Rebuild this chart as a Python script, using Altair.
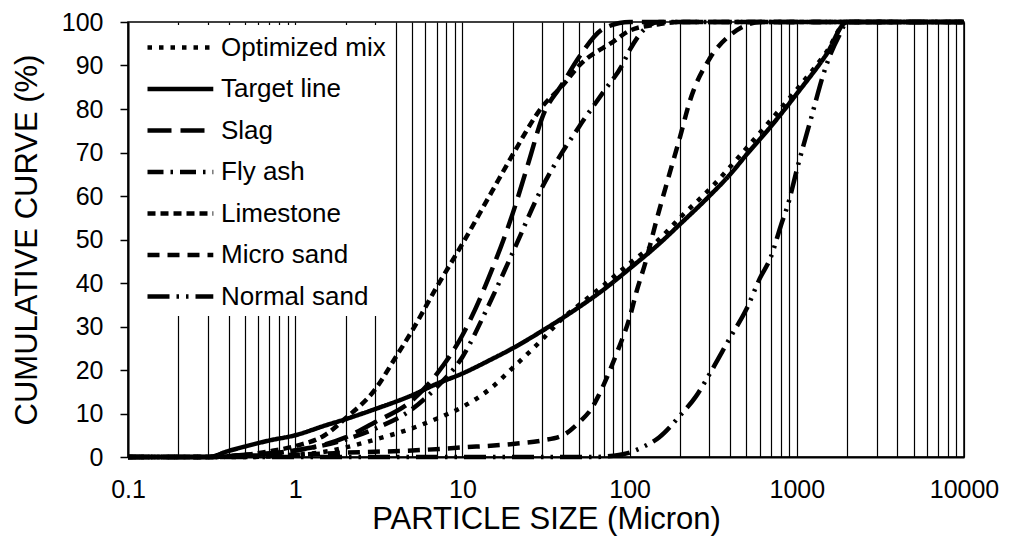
import altair as alt
import pandas as pd

# ---- data ----
series_names = ["Optimized mix", "Target line", "Slag", "Fly ash",
                "Limestone", "Micro sand", "Normal sand"]

opt_x = [0.1, 0.5, 1, 1.5, 2, 3, 5, 7, 10, 15, 20, 30, 40, 50, 70, 100, 150,
         200, 300, 500, 700, 1000, 1500, 2000, 10000]
opt_y = [0, 0, 0.5, 1.2, 2.2, 4, 6.6, 8.8, 11.5, 16, 20.5, 27, 32, 35, 39.5,
         44.5, 50, 55, 61.5, 71, 77.5, 84.5, 93, 100, 100]

target_x = [0.1, 0.3, 0.4, 0.5, 0.7, 1, 1.5, 2, 3, 5, 7, 10, 15, 20, 30, 50,
            70, 100, 150, 200, 300, 400, 500, 700, 1000, 1500, 2000, 10000]
target_y = [0, 0, 1.4, 2.4, 3.8, 5, 7.2, 8.7, 11, 14.2, 16.8, 19.2, 22.5, 25,
            29, 34.5, 38.5, 43.3, 49, 53.5, 60, 65, 69.5, 76, 83.5, 92.5, 100, 100]

slag_x = [0.1, 0.3, 0.5, 1, 2, 3, 5, 7, 10, 15, 20, 25, 30, 40, 50, 70, 100, 10000]
slag_y = [0, 0, 0.5, 1.5, 4.5, 8, 13, 19, 28, 43, 56, 68, 78, 86, 92, 98.5, 100, 100]

fly_x = [0.1, 0.3, 0.5, 1, 2, 3, 5, 7, 10, 14, 20, 30, 50, 70, 90, 100, 120,
         150, 10000]
fly_y = [0, 0, 0.3, 1.5, 4, 6.5, 11, 16, 23, 34, 47, 62, 76, 84, 90, 93.5,
         98, 100, 100]

lime_x = [0.1, 0.3, 0.5, 0.7, 1, 1.5, 2, 3, 4, 5, 7, 10, 15, 20, 30, 40, 50,
          80, 100, 150, 200, 10000]
lime_y = [0, 0, 0.5, 1.3, 2.5, 5, 8.9, 15.5, 23, 29, 39, 49, 61, 69.5, 80.5,
          85.5, 90, 95.5, 98, 99.5, 100, 100]

micro_x = [0.1, 0.3, 0.5, 1, 2, 5, 10, 20, 30, 40, 50, 60, 65, 85, 100, 110,
           125, 145, 170, 200, 230, 300, 400, 500, 600, 10000]
micro_y = [0, 0, 0.3, 0.5, 1, 1.5, 2.2, 3, 3.8, 5, 8, 11.5, 14, 24.5, 32, 38,
           45, 54.5, 64, 73.5, 82, 91.5, 97, 99.3, 100, 100]

normal_x = [0.1, 60, 80, 100, 120, 150, 200, 250, 300, 400, 500, 600, 700,
            800, 900, 1000, 1200, 1500, 1800, 2000, 10000]
normal_y = [0, 0, 0.3, 1, 2.3, 4.5, 9.5, 14, 19, 27.5, 34, 41, 46, 53, 59,
            66, 77, 90, 97, 100, 100]

grid_values = [0.1, 0.2, 0.3, 0.4, 0.5, 0.6, 0.7, 0.8, 0.9,
               1, 2, 3, 4, 5, 6, 7, 8, 9,
               10, 20, 30, 40, 50, 60, 70, 80, 90,
               100, 200, 300, 400, 500, 600, 700, 800, 900,
               1000, 2000, 3000, 4000, 5000, 6000, 7000, 8000, 9000, 10000]
y_ticks = [0, 10, 20, 30, 40, 50, 60, 70, 80, 90, 100]

# ---- styles ----
dash_styles = [[4.5, 7], [1, 0], [24, 9], [16, 7, 2.5, 7], [8, 5], [12, 8],
               [22, 7, 2.5, 7, 2.5, 7]]
width_styles = [4.5, 4.5, 2.5, 2, 2, 2.5, 2.5]

series_data = [(opt_x, opt_y), (target_x, target_y), (slag_x, slag_y),
               (fly_x, fly_y), (lime_x, lime_y), (micro_x, micro_y),
               (normal_x, normal_y)]

rows = []
for name, (xs, ys) in zip(series_names, series_data):
    for i, (xv, yv) in enumerate(zip(xs, ys)):
        rows.append({"series": name, "size": xv, "value": yv, "ord": i})
df = pd.DataFrame(rows)

FONT = "Liberation Sans"

legend = alt.Legend(
    title=None, orient="none", legendX=2, legendY=3,
    fillColor="white", padding=6,
    symbolType="M-1,0H3.7", symbolSize=784, symbolStrokeColor="black",
    symbolOffset=9, labelOffset=43, rowPadding=11.5, labelLimit=400,
    labelFont=FONT, labelFontSize=26, labelColor="black",
)

chart = alt.Chart(df).mark_line(color="black", interpolate="monotone").encode(
    x=alt.X("size:Q",
            scale=alt.Scale(type="log", domain=[0.1, 10000], nice=False),
            axis=alt.Axis(values=grid_values,
                          labelExpr="indexof([0.1,1,10,100,1000,10000], datum.value) >= 0 ? (datum.value < 1 ? '0.1' : format(datum.value, 'd')) : ''",
                          grid=True, gridColor="black", gridWidth=1.2,
                          gridOpacity=1, ticks=False, tickSize=0,
                          domainColor="black", domainWidth=2,
                          labelFont=FONT, labelFontSize=25, labelColor="black",
                          labelPadding=20, labelOverlap=False, labelFlush=False,
                          title="PARTICLE SIZE (Micron)", titleFont=FONT,
                          titleFontSize=31, titleFontWeight="normal",
                          titleColor="black", titlePadding=2)),
    y=alt.Y("value:Q",
            scale=alt.Scale(domain=[0, 100], nice=False),
            axis=alt.Axis(values=y_ticks, grid=False, tickSize=8,
                          tickColor="black", tickWidth=1.5,
                          domainColor="black", domainWidth=2,
                          labelFont=FONT, labelFontSize=25, labelColor="black",
                          labelPadding=17,
                          title="CUMULATIVE CURVE (%)", titleFont=FONT,
                          titleFontSize=31, titleFontWeight="normal",
                          titleColor="black", titlePadding=18)),
    strokeDash=alt.StrokeDash("series:O",
                              scale=alt.Scale(domain=series_names, range=dash_styles),
                              legend=legend),
    strokeWidth=alt.StrokeWidth("series:O",
                                scale=alt.Scale(domain=series_names, range=width_styles),
                                legend=legend),
    order="ord:Q",
).properties(
    width=836, height=435,
    padding={"left": 120, "top": 14, "right": 40, "bottom": 80},
    autosize=alt.AutoSizeParams(type="none"),
).configure_view(stroke="black", strokeWidth=1.5)

chart.save("out.html", embed_options={"renderer": "svg", "actions": False})
